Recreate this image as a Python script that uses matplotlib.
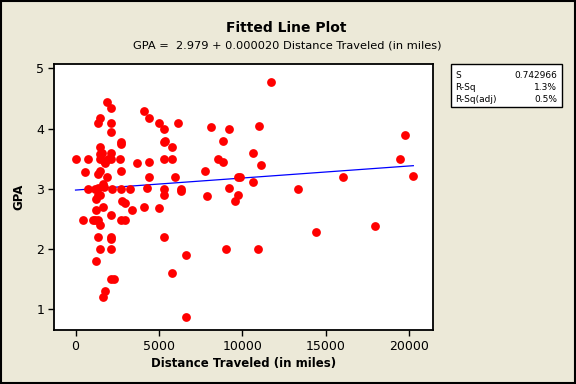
import matplotlib
matplotlib.use("Agg")
import matplotlib.pyplot as plt
from matplotlib.patches import Rectangle
import numpy as np

# Data
distance = [
    1905, 2145, 4123, 1486, 1366, 2145, 4422, 5021, 6160, 5321, 2145, 2744, 2744, 5381,
    5321, 5752, 1486, 1606, 1486, 2145, 0, 767, 1486, 1708, 1947, 2145, 1786, 2684,
    3703, 4422, 5321, 5752, 587, 1486, 1366, 2744, 1905, 4422, 5980, 767, 1168, 1366,
    1666, 1708, 2205, 2744, 3284, 4302, 5321, 6340, 6340, 1366, 1486, 1246, 5321, 2804,
    2984, 1666, 1246, 3404, 4123, 5021, 2145, 420, 1067, 1168, 1366, 1486, 2744, 2984,
    1366, 2145, 2145, 5321, 1486, 2145, 6639, 1246, 5752, 2145, 2325, 1786, 1666, 6639,
    11732, 8137, 9216, 11013, 8856, 10654, 8557, 8856, 11133, 7778, 9755, 9875, 10654,
    9216, 13350, 7897, 9755, 9575, 14429, 9036, 10954, 17964, 19762, 19462, 16047, 20241,
]
gpa = [
    4.44, 4.34, 4.29, 4.18, 4.09, 4.09, 4.17, 4.09, 4.09, 3.99, 3.94, 3.78, 3.74, 3.79,
    3.77, 3.69, 3.69, 3.59, 3.57, 3.59, 3.49, 3.49, 3.49, 3.46, 3.49, 3.49, 3.43, 3.49,
    3.42, 3.44, 3.49, 3.49, 3.28, 3.30, 3.24, 3.30, 3.19, 3.19, 3.20, 3.00, 3.00, 3.02,
    3.08, 3.03, 3.00, 3.00, 3.00, 3.02, 3.00, 3.00, 2.96, 2.90, 2.90, 2.83, 2.90, 2.80,
    2.76, 2.70, 2.64, 2.64, 2.70, 2.68, 2.57, 2.49, 2.49, 2.49, 2.49, 2.40, 2.48, 2.49,
    2.20, 2.20, 2.16, 2.20, 2.00, 2.00, 1.90, 1.80, 1.60, 1.50, 1.50, 1.30, 1.20, 0.88,
    4.77, 4.02, 3.99, 4.05, 3.79, 3.59, 3.49, 3.44, 3.39, 3.29, 3.19, 3.19, 3.12,
    3.01, 2.99, 2.88, 2.90, 2.79, 2.29, 2.00, 2.00, 2.39, 3.90, 3.49, 3.19, 3.22,
]
intercept = 2.979
slope = 0.000020
x_ticks = [0, 5000, 10000, 15000, 20000]
y_ticks = [1, 2, 3, 4, 5]
stat_labels = ["S", "R-Sq", "R-Sq(adj)"]
stat_values = ["0.742966", "1.3%", "0.5%"]

bg = "#ECE9D8"
fig = plt.figure(figsize=(5.76, 3.84), dpi=100, facecolor=bg)
ax = fig.add_axes([54/576, 1 - 330/384, (433-54)/576, (330-64)/384])
ax.set_facecolor("white")

ax.scatter(distance, gpa, s=40, color="#FF0000", zorder=3, linewidths=0)
xl = np.array([min(distance), max(distance)])
ax.plot(xl, intercept + slope * xl, color="#0000FF", lw=0.9, zorder=2)

ax.set_xlim(-1290, 21420)
ax.set_ylim(0.657, 5.071)
ax.set_xticks(x_ticks)
ax.set_yticks(y_ticks)
ax.set_xticklabels([str(t) for t in x_ticks])
ax.tick_params(direction="out", length=4, width=1, labelsize=9, colors="black", pad=3)
for s in ax.spines.values():
    s.set_linewidth(1.3)
    s.set_color("black")

ax.set_xlabel("Distance Traveled (in miles)", fontsize=8.5, fontweight="bold", labelpad=3)
ax.set_ylabel("GPA", fontsize=8.5, fontweight="bold", labelpad=8)

fig.text(286/576, 1 - 28/384, "Fitted Line Plot", ha="center", va="center",
         fontsize=10, fontweight="bold")
fig.text(287/576, 1 - 45/384, "GPA =  2.979 + 0.000020 Distance Traveled (in miles)",
         ha="center", va="center", fontsize=8.2)

# stats box
bx0, by0, bx1, by1 = 451, 64, 562, 107
fig.patches.append(Rectangle((bx0/576, 1 - by1/384), (bx1-bx0)/576, (by1-by0)/384,
                             transform=fig.transFigure, facecolor="white",
                             edgecolor="black", lw=1))
row_y = [75.5, 87.5, 99.0]
for lab, val, ry in zip(stat_labels, stat_values, row_y):
    fig.text(455/576, 1 - ry/384, lab, ha="left", va="center", fontsize=6.5)
    fig.text(557/576, 1 - ry/384, val, ha="right", va="center", fontsize=6.5)

# outer border
fig.patches.append(Rectangle((0.001, 0.002), 0.997, 0.996, transform=fig.transFigure,
                             facecolor="none", edgecolor="black", lw=1.5))

fig.savefig("out.png", dpi=100, facecolor=bg)
